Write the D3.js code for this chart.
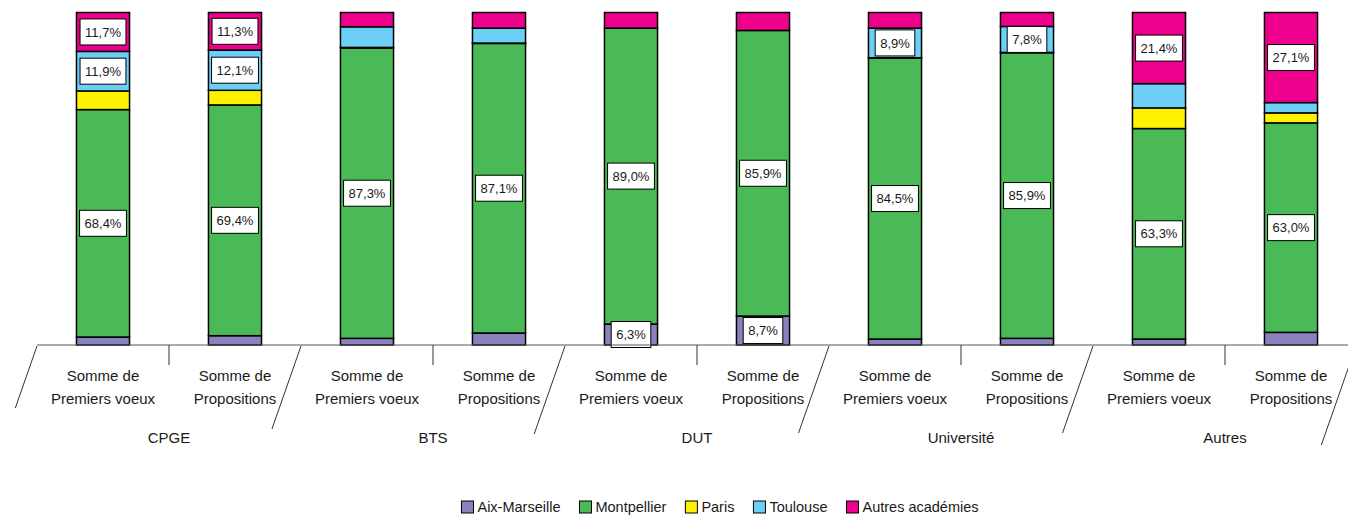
<!DOCTYPE html>
<html lang="fr">
<head>
    <meta charset="UTF-8">
    <title>Premiers voeux et propositions par académie</title>
    <script src="https://d3js.org/d3.v7.min.js"></script>
    <style>
        body {
            margin: 0;
            padding: 0;
            background-color: #ffffff;
            font-family: "Liberation Sans", Arial, sans-serif;
        }
        .segment {
            stroke: #000000;
            stroke-width: 1.5px;
        }
        .label-box {
            fill: #ffffff;
            stroke: #000000;
            stroke-width: 1px;
        }
        .label-text {
            font-size: 13px;
            fill: #1a1a1a;
        }
        .axis-text {
            font-size: 15px;
            fill: #1a1a1a;
        }
        .legend-text {
            font-size: 14.5px;
            fill: #1a1a1a;
        }
    </style>
</head>
<body>
    <div id="chart"></div>

    <script>
        // categories
        const groups = ["CPGE", "BTS", "DUT", "Université", "Autres"];
        const measures = ["Somme de Premiers voeux", "Somme de Propositions"];
        const seriesNames = ["Aix-Marseille", "Montpellier", "Paris", "Toulouse", "Autres académies"];

        // values (%), one entry per bar: group x measure
        const aixMarseille = [2.4, 2.8, 2.0, 3.6, 6.3, 8.7, 1.8, 2.0, 1.8, 3.8];
        const montpellier  = [68.4, 69.4, 87.3, 87.1, 89.0, 85.9, 84.5, 85.9, 63.3, 63.0];
        const paris        = [5.6, 4.4, 0.2, 0.1, 0.0, 0.0, 0.1, 0.1, 6.2, 3.0];
        const toulouse     = [11.9, 12.1, 6.2, 4.5, 0.0, 0.0, 8.9, 7.8, 7.3, 3.1];
        const autresAcad   = [11.7, 11.3, 4.3, 4.7, 4.7, 5.4, 4.7, 4.2, 21.4, 27.1];

        // bars whose value carries a data label, per series
        const labelled = [[4, 5], [0, 1, 2, 3, 4, 5, 6, 7, 8, 9], [], [0, 1, 6, 7], [0, 1, 8, 9]];

        const colors = ["#8a82c0", "#4aba57", "#fff200", "#6dcff6", "#ec008c"];
        const seriesValues = [aixMarseille, montpellier, paris, toulouse, autresAcad];

        const width = 1348;
        const height = 517;
        const plotLeft = 37, plotRight = 1357, plotTop = 12.5, plotBottom = 345;

        const bars = [];
        groups.forEach((g, gi) => {
            measures.forEach((m, mi) => {
                bars.push({ key: g + "|" + m, group: g, measure: m, index: gi * measures.length + mi });
            });
        });

        const svg = d3.select("#chart")
            .append("svg")
            .attr("width", width)
            .attr("height", height);

        const x = d3.scaleBand()
            .domain(bars.map(d => d.key))
            .range([plotLeft, plotRight])
            .paddingInner(0.598)
            .paddingOuter(0.299);

        const y = d3.scaleLinear()
            .domain([0, 100])
            .range([plotBottom, plotTop]);

        const fmt = v => d3.format(".1f")(v).replace(".", ",") + "%";

        // stacked segments
        const rows = bars.map(b => {
            const row = { key: b.key };
            seriesNames.forEach((s, si) => { row[s] = seriesValues[si][b.index]; });
            return row;
        });
        const stack = d3.stack().keys(seriesNames)(rows);

        const layers = svg.append("g")
            .selectAll("g")
            .data(stack)
            .enter()
            .append("g")
            .attr("fill", (d, i) => colors[i]);

        layers.selectAll("rect")
            .data(d => d.filter(p => p[1] - p[0] > 0))
            .enter()
            .append("rect")
            .attr("class", "segment")
            .attr("x", d => x(d.data.key))
            .attr("width", x.bandwidth())
            .attr("y", d => y(d[1]))
            .attr("height", d => y(d[0]) - y(d[1]));

        // data labels
        const labelData = [];
        stack.forEach((layer, si) => {
            labelled[si].forEach(bi => {
                const p = layer[bi];
                labelData.push({ key: p.data.key, value: seriesValues[si][bi], mid: (p[0] + p[1]) / 2 });
            });
        });

        const labels = svg.append("g")
            .selectAll("g")
            .data(labelData)
            .enter()
            .append("g")
            .attr("transform", d => `translate(${x(d.key) + x.bandwidth() / 2},${y(d.mid)})`);

        labels.append("text")
            .attr("class", "label-text")
            .attr("text-anchor", "middle")
            .attr("dy", "0.36em")
            .text(d => fmt(d.value));

        labels.each(function () {
            const g = d3.select(this);
            const w = g.select("text").node().getComputedTextLength();
            g.insert("rect", "text")
                .attr("class", "label-box")
                .attr("x", -w / 2 - 5)
                .attr("y", -13)
                .attr("width", w + 10)
                .attr("height", 26);
        });

        // category axis
        const axis = svg.append("g");
        axis.append("line")
            .attr("x1", plotLeft).attr("x2", plotRight - 1)
            .attr("y1", plotBottom).attr("y2", plotBottom)
            .attr("stroke", "#555555");

        const step = x.step();
        const sepLen = [62, 83, 88, 87, 87, 99];
        d3.range(bars.length + 1).forEach(i => {
            const bx = plotLeft + i * step - (i === bars.length ? 1 : 0);
            if (i % 2 === 0) {
                const len = sepLen[i / 2];
                axis.append("line")
                    .attr("x1", bx).attr("y1", plotBottom + 1)
                    .attr("x2", bx - len * 0.35).attr("y2", plotBottom + 1 + len)
                    .attr("stroke", "#333333");
            } else {
                axis.append("line")
                    .attr("x1", bx).attr("y1", plotBottom)
                    .attr("x2", bx).attr("y2", plotBottom + 20)
                    .attr("stroke", "#333333");
            }
        });

        const sub = axis.selectAll(".sub")
            .data(bars)
            .enter()
            .append("text")
            .attr("class", "axis-text")
            .attr("text-anchor", "middle")
            .attr("x", d => x(d.key) + x.bandwidth() / 2);
        sub.append("tspan")
            .attr("x", d => x(d.key) + x.bandwidth() / 2)
            .attr("y", 381)
            .text(d => d.measure.split(" ").slice(0, 2).join(" "));
        sub.append("tspan")
            .attr("x", d => x(d.key) + x.bandwidth() / 2)
            .attr("y", 404)
            .text(d => d.measure.split(" ").slice(2).join(" "));

        axis.selectAll(".grp")
            .data(groups)
            .enter()
            .append("text")
            .attr("class", "axis-text")
            .attr("text-anchor", "middle")
            .attr("x", (d, i) => plotLeft + (i * 2 + 1) * step)
            .attr("y", 443)
            .text(d => d);

        // legend
        const legend = svg.append("g");
        let lx = 0;
        seriesNames.forEach((s, i) => {
            const item = legend.append("g").attr("transform", `translate(${lx},0)`);
            item.append("rect")
                .attr("x", 0).attr("y", -6)
                .attr("width", 12).attr("height", 12)
                .attr("fill", colors[i])
                .attr("stroke", "#000000")
                .attr("stroke-width", 1);
            const t = item.append("text")
                .attr("class", "legend-text")
                .attr("x", 16)
                .attr("dy", "0.36em")
                .text(s);
            lx += 16 + t.node().getComputedTextLength() + 19;
        });
        const legendW = lx - 19;
        legend.attr("transform", `translate(${(462 + 978) / 2 - legendW / 2},507)`);
    </script>
</body>
</html>
